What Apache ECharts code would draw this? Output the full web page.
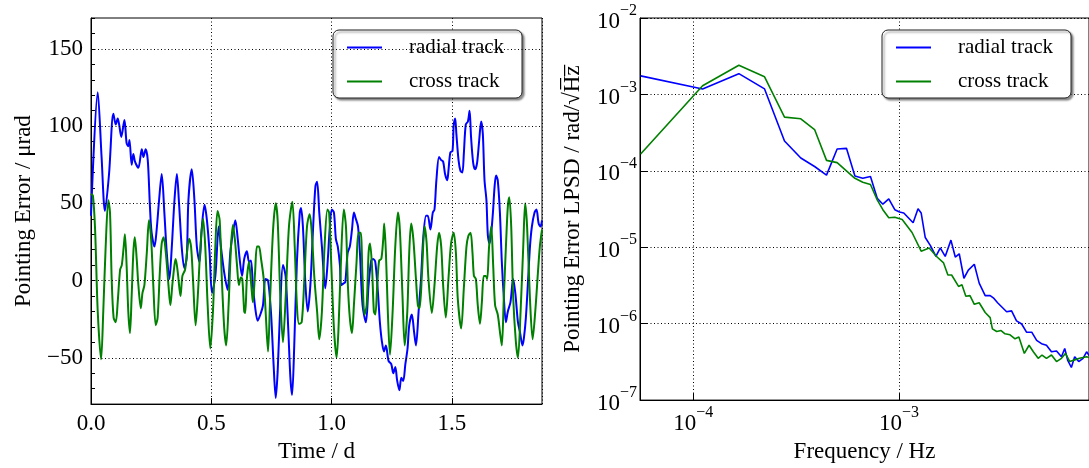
<!DOCTYPE html>
<html><head><meta charset="utf-8">
<script src="https://cdn.jsdelivr.net/npm/echarts@6/dist/echarts.min.js"></script>
<style>html,body{margin:0;padding:0;background:#fff}#c{width:1089px;height:468px}</style>
</head><body><div id="c"></div>
<script>
const seriesNames = ['radial track', 'cross track'];
const timeLabels = [0.0, 0.5, 1.0, 1.5];
const errorGrid = [-50, 0, 50, 100, 150];

const radialTime = [
0.000,0.028,0.044,0.058,0.075,0.093,0.103,0.111,0.117,0.126,
0.139,0.148,0.155,0.160,0.169,0.176,0.183,0.197,0.211,0.218,
0.227,0.236,0.245,0.252,0.264,0.273,0.283,0.294,0.305,0.315,
0.326,0.336,0.347,0.357,0.366,0.377,0.388,0.398,0.405,0.419,
0.430,0.440,0.451,0.460,0.472,0.482,0.493,0.503,0.517,0.531,
0.540,0.554,0.568,0.579,0.590,0.600,0.610,0.618,0.628,0.637,
0.648,0.657,0.665,0.673,0.683,0.693,0.704,0.715,0.725,0.736,
0.748,0.759,0.768,0.776,0.787,0.798,0.809,0.820,0.829,0.836,
0.845,0.856,0.868,0.873,0.881,0.891,0.901,0.912,0.923,0.933,
0.940,0.949,0.960,0.974,0.983,0.993,1.001,1.010,1.018,1.026,
1.035,1.040,1.049,1.057,1.067,1.076,1.085,1.093,1.101,1.110,
1.118,1.129,1.143,1.154,1.165,1.173,1.182,1.193,1.201,1.209,
1.218,1.226,1.237,1.248,1.257,1.265,1.273,1.282,1.290,1.298,
1.307,1.316,1.323,1.334,1.343,1.351,1.362,1.372,1.381,1.393,
1.400,1.411,1.421,1.428,1.436,1.447,1.456,1.464,1.472,1.481,
1.486,1.494,1.503,1.508,1.514,1.519,1.528,1.536,1.544,1.550,
1.558,1.567,1.574,1.580,1.589,1.597,1.605,1.614,1.622,1.629,
1.636,1.644,1.650,1.657,1.664,1.671,1.678,1.684,1.691,1.700,
1.708,1.716,1.725,1.733,1.744,1.755,1.764,1.775,1.783,1.794,
1.800,1.808,1.816,1.825,1.833,1.844,1.852,1.861,1.869,1.875];
const radialValue = [
42,122,80,45,69,108,101,105,101,93,
104,89,87,91,75,82,77,73,85,80,
85,78,48,31,22,33,52,69,44,18,
1,22,52,69,50,22,8,15,52,72,
52,22,12,33,49,39,18,-8,3,35,
22,5,-6,18,31,39,27,14,3,14,
19,12,13,-3,-18,-26,-22,-16,1,0,
-20,-54,-76,-59,-16,10,3,-31,-63,-74,
-42,12,44,47,35,-1,-20,-3,33,61,
64,44,22,-5,10,35,46,44,27,22,
10,-3,-2,-1,18,22,33,44,40,35,
18,-16,-27,-3,13,14,12,-8,-27,-39,
-46,-42,-52,-54,-60,-56,-65,-71,-63,-65,
-54,-44,-29,-22,-33,-42,-20,1,27,42,
42,33,44,46,65,80,78,77,69,65,
71,83,84,101,105,95,78,71,70,82,
101,103,110,93,76,72,76,91,103,95,
65,52,29,24,31,44,61,68,65,44,
12,-10,-27,-20,-14,1,-8,-27,-33,-42,
-37,-24,-3,22,35,44,46,37,35,39];

const crossTime = [
0.000,0.008,0.017,0.028,0.042,0.051,0.061,0.072,0.079,0.086,
0.094,0.103,0.111,0.121,0.128,0.136,0.141,0.148,0.155,0.162,
0.169,0.176,0.182,0.190,0.197,0.207,0.214,0.222,0.232,0.241,
0.250,0.259,0.269,0.277,0.286,0.294,0.302,0.311,0.322,0.330,
0.338,0.347,0.352,0.361,0.372,0.380,0.391,0.399,0.408,0.416,
0.424,0.435,0.444,0.455,0.466,0.475,0.485,0.496,0.507,0.517,
0.526,0.535,0.544,0.554,0.562,0.572,0.582,0.590,0.598,0.607,
0.615,0.623,0.629,0.637,0.641,0.648,0.657,0.662,0.669,0.673,
0.682,0.690,0.698,0.707,0.718,0.726,0.736,0.745,0.757,0.768,
0.776,0.787,0.798,0.809,0.823,0.837,0.847,0.856,0.865,0.876,
0.887,0.898,0.909,0.917,0.929,0.940,0.949,0.960,0.971,0.983,
0.990,0.999,1.010,1.021,1.029,1.039,1.051,1.060,1.068,1.076,
1.085,1.093,1.104,1.112,1.121,1.129,1.137,1.146,1.154,1.160,
1.168,1.176,1.182,1.190,1.198,1.207,1.215,1.219,1.226,1.234,
1.243,1.254,1.265,1.276,1.284,1.295,1.304,1.315,1.323,1.331,
1.340,1.351,1.359,1.366,1.376,1.387,1.395,1.403,1.417,1.428,
1.439,1.447,1.456,1.464,1.475,1.486,1.497,1.508,1.517,1.525,
1.539,1.550,1.561,1.569,1.578,1.586,1.592,1.600,1.608,1.617,
1.625,1.633,1.641,1.647,1.655,1.664,1.672,1.680,1.691,1.700,
1.708,1.716,1.725,1.733,1.739,1.747,1.755,1.766,1.775,1.786,
1.797,1.805,1.813,1.825,1.836,1.847,1.858,1.866,1.875];
const crossValue = [
56,55,33,-20,-51,-20,22,52,44,1,
-24,-27,-14,7,10,22,30,10,-20,-34,
-10,18,28,14,-3,-18,-8,-3,18,39,
27,-3,-29,-24,5,24,28,18,-3,-16,
-3,10,14,5,-10,3,7,18,27,22,
1,-29,-10,22,40,22,-16,-44,-20,22,
45,39,1,-31,-42,-16,22,36,27,10,
-3,2,1,-20,-21,1,12,5,-8,-14,
5,22,22,14,1,-20,-46,-10,33,50,
39,-10,-40,-12,35,51,22,-16,-28,-27,
1,35,43,33,1,-20,-38,-20,22,46,
44,10,-31,-50,-31,12,46,35,-3,-24,
-34,-16,12,31,31,1,-22,-16,18,24,
10,-20,-22,-3,13,14,27,37,18,-20,
-48,-20,22,44,33,-10,-42,-20,18,37,
27,1,-16,-18,5,35,25,1,-21,-3,
22,31,22,-3,-24,1,24,31,18,-12,
-31,-5,22,29,31,18,3,1,-16,-28,
-14,3,3,1,22,35,10,-16,-22,-33,
-42,-12,22,48,54,35,-10,-39,-50,-20,
22,50,35,-12,-38,-20,5,22,33];

const psdRadialFreq = [
5.55e-5,1.11e-4,1.665e-4,2.22e-4,2.775e-4,3.33e-4,3.885e-4,4.44e-4,5.0e-4,5.55e-4,
6.1e-4,6.66e-4,7.26e-4,7.83e-4,8.34e-4,8.91e-4,9.53e-4,1.005e-3,1.054e-3,1.17e-3,
1.236e-3,1.28e-3,1.34e-3,1.42e-3,1.51e-3,1.585e-3,1.675e-3,1.786e-3,1.875e-3,1.96e-3,
2.065e-3,2.17e-3,2.32e-3,2.45e-3,2.62e-3,2.77e-3,2.87e-3,3.01e-3,3.33e-3,3.52e-3,
3.72e-3,3.94e-3,4.16e-3,4.41e-3,4.66e-3,4.92e-3,5.20e-3,5.50e-3,5.82e-3,6.15e-3,
6.38e-3,6.6e-3,6.87e-3,7.13e-3,7.46e-3,7.83e-3,8.15e-3,8.4e-3];
const psdRadialValue = [
1.75e-3,1.18e-3,1.87e-3,1.18e-3,2.46e-4,1.47e-4,1.14e-4,8.8e-5,1.93e-4,1.97e-4,
8.55e-5,8.0e-5,8.45e-5,4.38e-5,3.66e-5,4.29e-5,3.10e-5,2.90e-5,2.81e-5,2.09e-5,
3.19e-5,2.81e-5,1.34e-5,1.05e-5,7.59e-6,9.79e-6,7.59e-6,1.24e-5,7.45e-6,8.22e-6,
3.93e-6,5.02e-6,6.0e-6,3.39e-6,2.33e-6,2.33e-6,2.18e-6,1.88e-6,1.43e-6,1.47e-6,
1.09e-6,9.9e-7,7.74e-7,7.74e-7,6.05e-7,5.48e-7,5.22e-7,4.29e-7,4.38e-7,3.70e-7,
4.73e-7,3.3e-7,2.67e-7,3.70e-7,3.19e-7,3.52e-7,4.29e-7,3.8e-7];

const psdCrossFreq = [
5.55e-5,1.11e-4,1.665e-4,2.22e-4,2.775e-4,3.33e-4,3.885e-4,4.44e-4,5.0e-4,6.1e-4,
6.66e-4,7.26e-4,7.83e-4,8.34e-4,8.91e-4,9.53e-4,1.035e-3,1.156e-3,1.28e-3,1.40e-3,
1.53e-3,1.645e-3,1.726e-3,1.80e-3,1.945e-3,2.02e-3,2.11e-3,2.21e-3,2.32e-3,2.45e-3,
2.62e-3,2.77e-3,2.84e-3,2.98e-3,3.13e-3,3.27e-3,3.46e-3,3.66e-3,3.82e-3,4.06e-3,
4.28e-3,4.49e-3,4.74e-3,4.95e-3,5.20e-3,5.50e-3,5.82e-3,6.15e-3,6.43e-3,6.75e-3,
7.13e-3,7.53e-3,8.15e-3,8.4e-3];
const psdCrossValue = [
1.66e-4,1.30e-3,2.41e-3,1.70e-3,5.04e-4,4.8e-4,3.47e-4,1.37e-4,1.28e-4,7.98e-5,
7.1e-5,6.62e-5,4.17e-5,3.10e-5,2.43e-5,2.47e-5,2.31e-5,1.56e-5,8.89e-6,9.79e-6,
7.45e-6,6.24e-6,4.34e-6,4.34e-6,3.07e-6,3.23e-6,2.29e-6,2.33e-6,1.79e-6,1.88e-6,
1.40e-6,1.20e-6,8.55e-7,7.89e-7,8.13e-7,7.38e-7,7.16e-7,6.35e-7,6.68e-7,4.08e-7,
5.22e-7,4.29e-7,3.52e-7,3.89e-7,3.52e-7,3.89e-7,3.19e-7,3.52e-7,4.08e-7,3.19e-7,
3.36e-7,3.52e-7,3.70e-7,3.6e-7];

const zip = (a, b) => a.map((x, i) => [x, b[i]]);
const FONT = 'Liberation Serif';
const BLUE = '#0000ff', GREEN = '#008000';
const gridDot = {color: '#000', width: 1, type: [1, 2.5]};
const supLabel = v => {
  const e = Math.round(Math.log10(v));
  return '{b|10}{s|' + (e < 0 ? '\u2212' + (-e) : e) + '}';
};
const supRich = {
  b: {fontFamily: FONT, fontSize: 23, color: '#000', lineHeight: 30, verticalAlign: 'bottom'},
  s: {fontFamily: FONT, fontSize: 16, color: '#000', lineHeight: 16, verticalAlign: 'top'}
};
const legendCommon = {
  orient: 'vertical', data: seriesNames, icon: 'rect', itemWidth: 35, itemHeight: 2,
  itemGap: 13, padding: [7, 18, 6, 14], backgroundColor: '#fff', borderColor: '#222',
  borderWidth: 1, borderRadius: 6, shadowColor: 'rgba(0,0,0,0.45)', shadowBlur: 2,
  shadowOffsetX: 2, shadowOffsetY: 2, selectedMode: false,
  textStyle: {fontFamily: FONT, fontSize: 21, color: '#000', padding: [0, 0, 0, 22]}
};

const chart = echarts.init(document.getElementById('c'), null, {renderer: 'canvas'});
chart.setOption({
  animation: false,
  backgroundColor: '#fff',
  grid: [
    {left: 91, right: 547, top: 18, bottom: 60, show: true, borderColor: '#000', borderWidth: 1, backgroundColor: 'transparent'},
    {left: 640, right: -2, top: 18, bottom: 60, show: true, borderColor: '#000', borderWidth: 1, backgroundColor: 'transparent'}
  ],
  legend: [
    Object.assign({left: 333, top: 30}, legendCommon),
    Object.assign({left: 882, top: 30}, legendCommon)
  ],
  xAxis: [
    {gridIndex: 0, type: 'value', min: 0, max: 1.875, interval: 0.5,
     axisLine: {onZero: false, lineStyle: {color: '#000'}}, axisTick: {inside: true, length: 6, lineStyle: {color: '#000'}},
     axisLabel: {fontFamily: FONT, fontSize: 23, color: '#000', margin: 8, showMaxLabel: false,
                 formatter: v => v.toFixed(1)},
     splitLine: {show: true, lineStyle: gridDot},
     name: 'Time / d', nameLocation: 'middle', nameGap: 30,
     nameTextStyle: {fontFamily: FONT, fontSize: 23, color: '#000'}},
    {gridIndex: 1, type: 'log', logBase: 10, min: 5.51e-5, max: 8.37e-3,
     axisLine: {onZero: false, lineStyle: {color: '#000'}}, axisTick: {inside: true, length: 7, lineStyle: {color: '#000'}},
     axisLabel: {showMinLabel: false, showMaxLabel: false, margin: 5, formatter: supLabel, rich: supRich},
     splitLine: {show: true, lineStyle: gridDot},
     name: 'Frequency / Hz', nameLocation: 'middle', nameGap: 30,
     nameTextStyle: {fontFamily: FONT, fontSize: 23, color: '#000'}}
  ],
  yAxis: [
    {gridIndex: 0, type: 'value', min: -80, max: 170, interval: 10,
     axisLine: {onZero: false, lineStyle: {color: '#000'}}, axisTick: {inside: true, length: 4, lineStyle: {color: '#000'}},
     axisLabel: {fontFamily: FONT, fontSize: 23, color: '#000', margin: 8,
                 formatter: v => (v % 50 === 0 ? (v < 0 ? '\u2212' + (-v) : String(v)) : '')},
     splitLine: {show: false},
     name: 'Pointing Error / \u03bcrad', nameLocation: 'middle', nameGap: 56,
     nameTextStyle: {fontFamily: FONT, fontSize: 23, color: '#000'}},
    {gridIndex: 1, type: 'log', logBase: 10, min: 1e-7, max: 1e-2,
     axisLine: {onZero: false, lineStyle: {color: '#000'}}, axisTick: {inside: true, length: 7, lineStyle: {color: '#000'}},
     axisLabel: {margin: 3, formatter: supLabel, rich: supRich},
     splitLine: {show: true, lineStyle: gridDot},
     name: 'Pointing Error LPSD / rad/\u221aH\u0305z\u0305', nameLocation: 'middle', nameGap: 56,
     nameTextStyle: {fontFamily: FONT, fontSize: 23, color: '#000'}}
  ],
  series: [
    {type: 'line', name: '_grid', xAxisIndex: 0, yAxisIndex: 0, data: [], z: 1, silent: true,
     markLine: {silent: true, symbol: ['none', 'none'], label: {show: false},
                lineStyle: gridDot, data: errorGrid.map(v => ({yAxis: v}))}},
    {type: 'line', name: seriesNames[0], xAxisIndex: 0, yAxisIndex: 0, data: zip(radialTime, radialValue),
     showSymbol: false, smooth: 0.3, z: 3, lineStyle: {color: BLUE, width: 2}, itemStyle: {color: BLUE}},
    {type: 'line', name: seriesNames[1], xAxisIndex: 0, yAxisIndex: 0, data: zip(crossTime, crossValue),
     showSymbol: false, smooth: 0.3, z: 3, lineStyle: {color: GREEN, width: 2}, itemStyle: {color: GREEN}},
    {type: 'line', name: seriesNames[0], xAxisIndex: 1, yAxisIndex: 1, data: zip(psdRadialFreq, psdRadialValue),
     showSymbol: false, z: 3, lineStyle: {color: BLUE, width: 1.6}, itemStyle: {color: BLUE}},
    {type: 'line', name: seriesNames[1], xAxisIndex: 1, yAxisIndex: 1, data: zip(psdCrossFreq, psdCrossValue),
     showSymbol: false, z: 3, lineStyle: {color: GREEN, width: 1.6}, itemStyle: {color: GREEN}}
  ]
});
</script></body></html>
